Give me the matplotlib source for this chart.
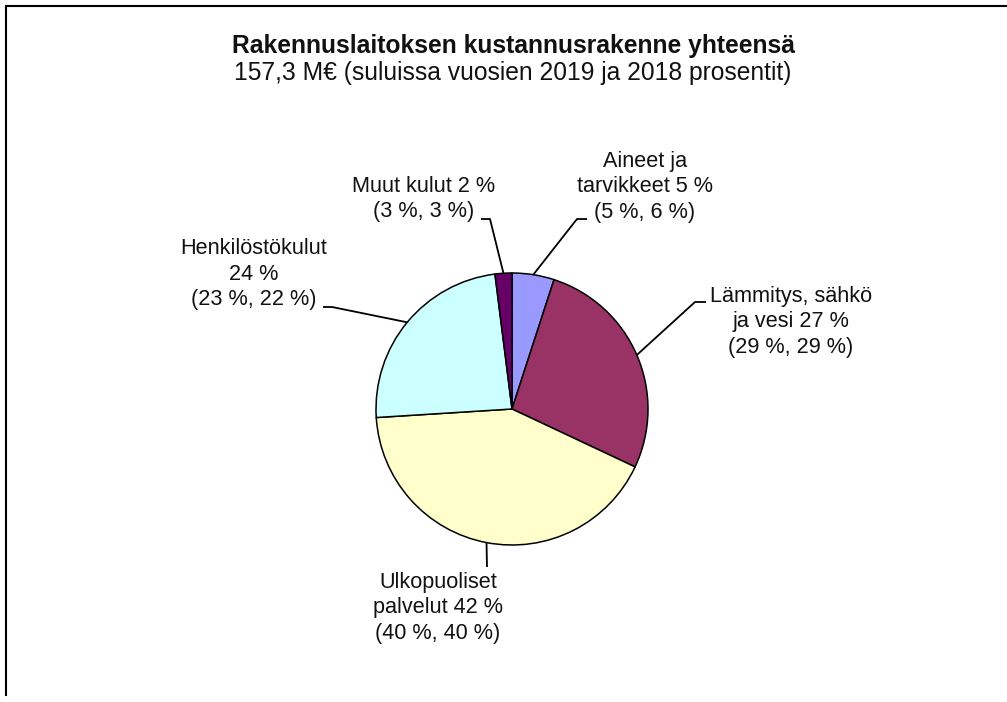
import numpy as np
import matplotlib
matplotlib.use("Agg")
import matplotlib.pyplot as plt

plt.rcParams['font.family'] = ['Liberation Sans', 'DejaVu Sans']

# ---- data ----
categories = ["Aineet ja\ntarvikkeet", "Lämmitys, sähkö\nja vesi", "Ulkopuoliset\npalvelut",
              "Henkilöstökulut\n", "Muut kulut"]
shares_2020 = [5, 27, 42, 24, 2]
shares_2019 = [5, 29, 40, 23, 3]
shares_2018 = [6, 29, 40, 22, 3]
colors = ["#9999FF", "#993366", "#FFFFCC", "#CCFFFF", "#660066"]
title = "Rakennuslaitoksen kustannusrakenne yhteensä"
subtitle = "157,3 M€ (suluissa vuosien 2019 ja 2018 prosentit)"

W, H = 1007, 702
fig = plt.figure(figsize=(W / 100, H / 100), dpi=100)
ax = fig.add_axes([0, 0, 1, 1])

def Y(p):
    return H - p

cx, cy, R = 512, Y(409), 136
wedges, _ = ax.pie(shares_2020, colors=colors, startangle=90, counterclock=False,
                   center=(cx, cy), radius=R,
                   wedgeprops=dict(edgecolor="black", linewidth=1.1))
ax.set_xlim(0, W)
ax.set_ylim(0, H)
ax.set_aspect('auto')
ax.axis('off')

# label layout: text center, elbow point, line end near text (pixel coords)
layout = [
    dict(txt=(645, 187), pts=[(577, 219), (587, 219)]),
    dict(txt=(791, 322), pts=[(695, 302), (706, 302)]),
    dict(txt=(438, 608), pts=[(487, 567)]),
    dict(txt=(254, 274), pts=[(332, 307), (323, 307)]),
    dict(txt=(424, 199), pts=[(490, 219), (481, 219)]),
]

labels = []
for c, a, b, d in zip(categories, shares_2020, shares_2019, shares_2018):
    sep = "\n" if c.endswith("\n") else " "
    labels.append(f"{c.rstrip()}{sep}{a} %\n({b} %, {d} %)")

for w, lab, lay in zip(wedges, labels, layout):
    mid = np.deg2rad((w.theta1 + w.theta2) / 2)
    ax_, ay_ = cx + R * np.cos(mid), cy + R * np.sin(mid)
    xs = [ax_] + [p[0] for p in lay["pts"]]
    ys = [ay_] + [Y(p[1]) for p in lay["pts"]]
    ax.plot(xs, ys, color="black", lw=1.3, solid_capstyle="butt")
    ax.text(lay["txt"][0], Y(lay["txt"][1]), lab, ha="center", va="center",
            fontsize=15.6, color="#111111", linespacing=1.27)

ax.text(513, Y(46), title, ha="center", va="center", fontsize=17.7, fontweight="bold", color="#111111")
ax.text(513, Y(73), subtitle, ha="center", va="center", fontsize=17.7, color="#111111")

# frame lines (top and left)
ax.plot([6, 6, W], [Y(695), Y(6), Y(6)], color="black", lw=1.5, solid_joinstyle="miter")

fig.savefig("out.png", dpi=100)
